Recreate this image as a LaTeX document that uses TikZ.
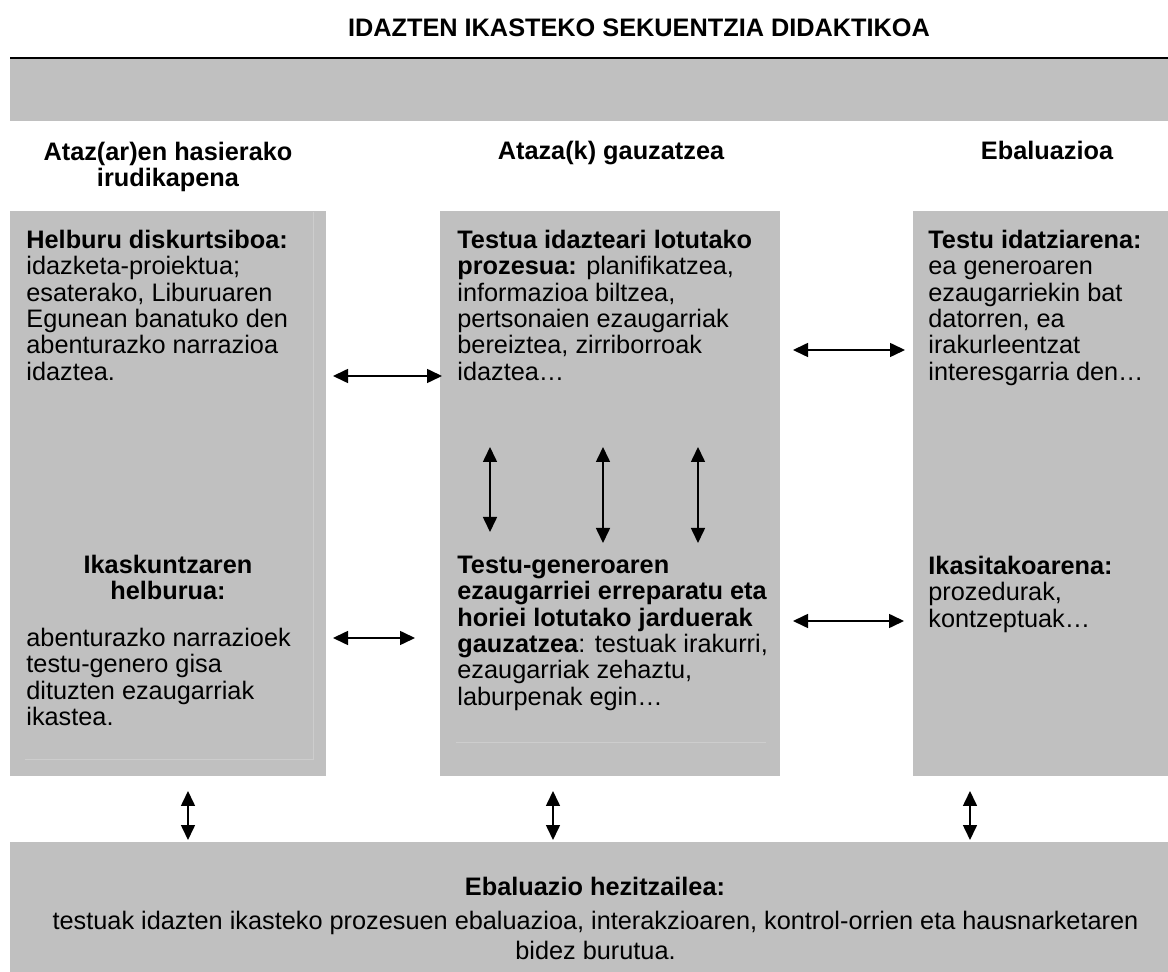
\documentclass[tikz,border=0pt]{standalone}
\usepackage{fontspec}
\setmainfont{Liberation Sans}
\usetikzlibrary{positioning}
\usetikzlibrary{arrows.meta}
\definecolor{cellgray}{RGB}{192,192,192}
\definecolor{seamgray}{RGB}{205,205,205}
\tikzset{
	cell/.style={fill=cellgray, inner sep=0pt, outer sep=0pt, anchor=north west},
	txt/.style={inner sep=0pt, align=left, font=\fontsize{12.65pt}{13.2pt}\selectfont},
	head/.style={inner sep=0pt, align=center, font=\fontsize{12.65pt}{13pt}\selectfont\bfseries},
	biarrow/.style={{Triangle[length=7.5pt,width=7pt]}-{Triangle[length=7.5pt,width=7pt]}, line width=0.8pt},
	seam/.style={draw=seamgray, line width=0.5pt}
}
\begin{document}
\begin{tikzpicture}[x=0.5pt,y=-0.5pt]
		\useasboundingbox (0,0) rectangle (1168,972);
		% Title and band
		\node [head, anchor=base] at (639,37) (title) {IDAZTEN IKASTEKO SEKUENTZIA DIDAKTIKOA};
		\node [cell, minimum width=579pt, minimum height=31.5pt] at (10,58) (band) {};
		\draw [line width=1pt] (band.north west) -- (band.north east);
		
		% Column headers
		\node [head, anchor=north] at (168,141.5) (head1) {Ataz(ar)en hasierako\\irudikapena};
		\node [head, anchor=base] at (611,160) (head2) {Ataza(k) gauzatzea};
		\node [head, anchor=base] at (1047,160) (head3) {Ebaluazioa};
		
		% Boxes
		\node [cell, minimum width=158pt, minimum height=282.5pt] at (10,211) (lbox) {};
		\node [cell, minimum width=170pt, minimum height=282.5pt] at (440,211) (mbox) {};
		\node [cell, minimum width=127.5pt, minimum height=282.5pt] at (913,211) (rbox) {};
		\node [cell, minimum width=579pt, minimum height=65pt] at (10,842) (ebox) {};
		\draw [seam] (313,212) -- (313,760) -- (25,760);
		\draw [seam] (456,743) -- (766,743);
		
		% First row texts
		\node [txt, below right=9.25pt and 8pt of lbox.north west] (discgoal) {\textbf{Helburu diskurtsiboa:}\\idazketa-proiektua;\\esaterako, Liburuaren\\Egunean banatuko den\\abenturazko narrazioa\\idaztea.};
		\node [txt, below right=9.25pt and 8.5pt of mbox.north west] (process) {\textbf{Testua idazteari lotutako}\\\textbf{prozesua:} planifikatzea,\\informazioa biltzea,\\pertsonaien ezaugarriak\\bereiztea, zirriborroak\\idaztea…};
		\node [txt, below right=9.25pt and 7.5pt of rbox.north west] (written) {\textbf{Testu idatziarena:}\\ea generoaren\\ezaugarriekin bat\\datorren, ea\\irakurleentzat\\interesgarria den…};
		
		% Second row texts
		\node [head, font=\fontsize{12.65pt}{13.2pt}\selectfont\bfseries, below=171.75pt of lbox.north] (learnhead) {Ikaskuntzaren\\helburua:};
		\node [txt, below right=208.25pt and 8pt of lbox.north west] (learngoal) {abenturazko narrazioek\\testu-genero gisa\\dituzten ezaugarriak\\ikastea.};
		\node [txt, below right=172.25pt and 8.5pt of mbox.north west] (genre) {\textbf{Testu-generoaren}\\\textbf{ezaugarriei erreparatu eta}\\\textbf{horiei lotutako jarduerak}\\\textbf{gauzatzea}: testuak irakurri,\\ezaugarriak zehaztu,\\laburpenak egin…};
		\node [txt, below right=172.25pt and 7.5pt of rbox.north west] (learnt) {\textbf{Ikasitakoarena:}\\prozedurak,\\kontzeptuak…};
		
		% Bottom box texts
		\node [head, anchor=base] at (595,895) (formhead) {Ebaluazio hezitzailea:};
		\node [txt, align=center, anchor=north, font=\fontsize{12.65pt}{15pt}\selectfont] at (595.5,910.5) (formtext) {testuak idazten ikasteko prozesuen ebaluazioa, interakzioaren, kontrol-orrien eta hausnarketaren\\bidez burutua.};
		
		% Connections
		\coordinate (rowA) at (0,376);
		\coordinate (rowB) at (0,350);
		\coordinate (rowC) at (0,638);
		\coordinate (rowD) at (0,621);
		\coordinate (colA) at (188,0);
		\coordinate (colB) at (553,0);
		\coordinate (colC) at (970,0);
		\draw [biarrow] ([xshift=3.5pt]lbox.east |- rowA) -- ([xshift=1pt]mbox.west |- rowA);
		\draw [biarrow] ([xshift=6.5pt]mbox.east |- rowB) -- ([xshift=-4pt]rbox.west |- rowB);
		\draw [biarrow] ([xshift=3.5pt]lbox.east |- rowC) -- ([xshift=-12.5pt]mbox.west |- rowC);
		\draw [biarrow] ([xshift=6.5pt]mbox.east |- rowD) -- ([xshift=-4.5pt]rbox.west |- rowD);
		
		% Arrows inside the middle box
		\coordinate (p1) at (490,447); \coordinate (q1) at (490,532);
		\coordinate (p2) at (603,447); \coordinate (q2) at (603,543);
		\coordinate (p3) at (698,447); \coordinate (q3) at (698,543);
		\foreach \i in {1,2,3} \draw [biarrow] (p\i) -- (q\i);
		
		% Down to the formative evaluation
		\draw [biarrow] ([yshift=-7.5pt]lbox.south -| colA) -- ([yshift=1pt]ebox.north -| colA);
		\draw [biarrow] ([yshift=-7.5pt]mbox.south -| colB) -- ([yshift=1pt]ebox.north -| colB);
		\draw [biarrow] ([yshift=-7.5pt]rbox.south -| colC) -- ([yshift=1pt]ebox.north -| colC);
\end{tikzpicture}
\end{document}
